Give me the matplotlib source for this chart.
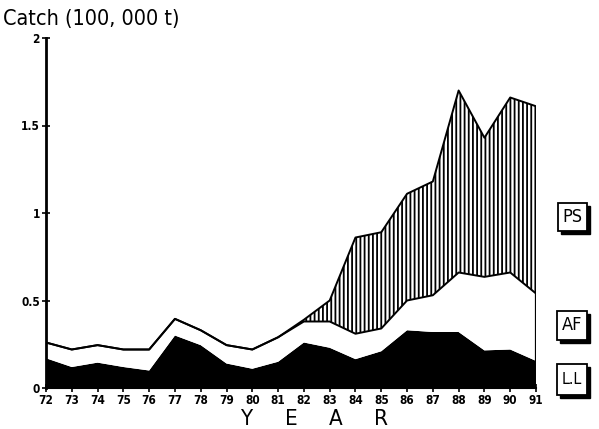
import matplotlib
matplotlib.use("Agg")
import matplotlib.pyplot as plt
import matplotlib.patches as mpatches
import numpy as np
from matplotlib import font_manager

years = list(range(72, 92))
year_labels = [str(y) for y in years]
ll = [0.17, 0.12, 0.145, 0.12, 0.10, 0.30, 0.245, 0.14, 0.11, 0.15,
      0.26, 0.23, 0.165, 0.21, 0.33, 0.32, 0.32, 0.215, 0.22, 0.155]
af = [0.09, 0.10, 0.10, 0.10, 0.12, 0.095, 0.085, 0.105, 0.11, 0.14,
      0.12, 0.15, 0.145, 0.13, 0.17, 0.21, 0.34, 0.42, 0.44, 0.385]
ps = [0, 0, 0, 0, 0, 0, 0, 0, 0, 0,
      0.01, 0.12, 0.55, 0.55, 0.61, 0.65, 1.04, 0.795, 1.00, 1.07]
series_names = ["PS", "AF", "L.L"]
yticks = [0, 0.5, 1, 1.5, 2]
ytick_labels = ["0", "0.5", "1", "1.5", "2"]

avail = {f.name for f in font_manager.fontManager.ttflist}
narrow = "Liberation Sans Narrow" if "Liberation Sans Narrow" in avail else "DejaVu Sans"

x = np.array(years)
c1 = np.array(ll)
c2 = c1 + np.array(af)
c3 = c2 + np.array(ps)

plt.rcParams['hatch.linewidth'] = 1.3
fig = plt.figure(figsize=(5.99, 4.29), dpi=100)
ax = fig.add_axes([46/599, 1-388/429, (536-46)/599, (388-38)/429])

ax.fill_between(x, 0, c1, facecolor='black', linewidth=0)
ax.fill_between(x, c1, c2, facecolor='white', linewidth=0)
ax.fill_between(x, c2, c3, facecolor='white', edgecolor='black', hatch='||||', linewidth=0)
ax.plot(x, c2, color='black', lw=1.4)
ax.plot(x, c3, color='black', lw=1.4)
ax.vlines(x[-1], 0, c3[-1], color='black', lw=1.6)

ax.set_xlim(72, 91)
ax.set_ylim(0, 2.0)
ax.set_xticks(years)
ax.set_xticklabels(year_labels, fontfamily=narrow, fontstretch='condensed', fontweight='bold', fontsize=8.5)
ax.set_yticks(yticks)
ax.set_yticklabels(ytick_labels, fontfamily=narrow, fontstretch='condensed', fontweight='bold', fontsize=8.5)
ax.tick_params(direction='inout', length=6, width=1.2, pad=1.5)
for s in ['top', 'right']:
    ax.spines[s].set_visible(False)
ax.spines['left'].set_linewidth(2)
ax.spines['bottom'].set_linewidth(1.5)

fig.text(3/599, 1-19/429, "Catch (100, 000 t)", fontfamily=narrow, fontstretch='condensed',
         fontsize=15.5, va='center', ha='left')

for lx, letter in zip([246, 291, 336, 381], "YEAR"):
    fig.text(lx/599, 0.0, letter, fontfamily=narrow, fontstretch='condensed', fontsize=16,
             ha='center', va='bottom', fontweight='light')

boxes = [(558, 203, 29, 28), (557, 311, 30, 29), (557, 364, 30, 31)]
for (bx, by, bw, bh), name in zip(boxes, series_names):
    sh = mpatches.Rectangle(((bx+3)/599, 1-(by+bh+3)/429), bw/599, bh/429,
                            transform=fig.transFigure, facecolor='black', edgecolor='black')
    bo = mpatches.Rectangle((bx/599, 1-(by+bh)/429), bw/599, bh/429,
                            transform=fig.transFigure, facecolor='white', edgecolor='black', lw=1.3)
    fig.add_artist(sh)
    fig.add_artist(bo)
    fig.text((bx+bw/2)/599, 1-(by+bh/2)/429, name, fontfamily=narrow, fontstretch='condensed',
             fontsize=13 if name != "L.L" else 11.5, ha='center', va='center')

fig.savefig("out.png", dpi=100)
